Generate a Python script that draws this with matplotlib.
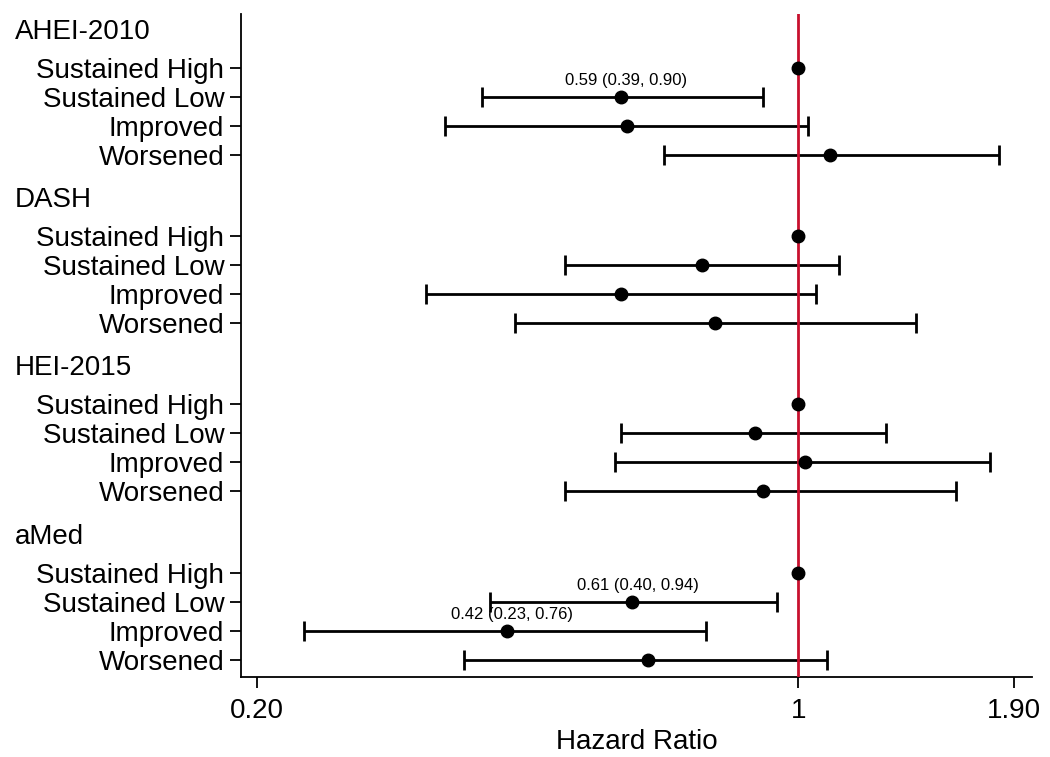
import numpy as np
import matplotlib
matplotlib.use("Agg")
from matplotlib import pyplot as plt
from matplotlib import transforms

plt.rcParams['font.family'] = ['Liberation Sans', 'DejaVu Sans']

groups = ["AHEI-2010", "DASH", "HEI-2015", "aMed"]
rows = ["Sustained High", "Sustained Low", "Improved", "Worsened"]

# hazard ratio and 95% CI for each group, row order as above
hr = [[1.0, 0.59, 0.60, 1.10],
      [1.0, 0.75, 0.59, 0.78],
      [1.0, 0.88, 1.02, 0.90],
      [1.0, 0.61, 0.42, 0.64]]
lo = [[np.nan, 0.39, 0.35, 0.67],
      [np.nan, 0.50, 0.33, 0.43],
      [np.nan, 0.59, 0.58, 0.50],
      [np.nan, 0.40, 0.23, 0.37]]
hi = [[np.nan, 0.90, 1.03, 1.82],
      [np.nan, 1.13, 1.055, 1.42],
      [np.nan, 1.30, 1.77, 1.60],
      [np.nan, 0.94, 0.76, 1.09]]
# labels shown only for significant estimates
notes = {(0, 1): "0.59 (0.39, 0.90)",
         (3, 1): "0.61 (0.40, 0.94)",
         (3, 2): "0.42 (0.23, 0.76)"}

xticks = [0.20, 1, 1.90]
xticklabels = ["0.20", "1", "1.90"]

group_step = 5.8
head_gap = 1.24
fs = 20

fig = plt.figure(figsize=(10.5, 7.57), dpi=100)
ax = fig.add_axes([241/1050, 1-677/757, (1032-241)/1050, (677-14)/757])

ypos = []
ylabs = []
for g, name in enumerate(groups):
    base = g*group_step
    for r, lab in enumerate(rows):
        y = base + head_gap + r
        ypos.append(y)
        ylabs.append(lab)
        if not np.isnan(lo[g][r]):
            ax.errorbar(hr[g][r], y, xerr=[[hr[g][r]-lo[g][r]], [hi[g][r]-hr[g][r]]],
                        fmt="none", ecolor="black", elinewidth=2, capsize=7, capthick=2, zorder=2)
        ax.plot(hr[g][r], y, "o", color="black", markersize=9, zorder=4)
        if (g, r) in notes:
            ax.annotate(notes[(g, r)], (hr[g][r], y), xytext=(4, 6.5), textcoords="offset points",
                        ha="center", va="bottom", fontsize=12)

ax.axvline(1, color="#c8102e", linewidth=2, zorder=3)

trans = transforms.blended_transform_factory(fig.transFigure, ax.transData)
for g, name in enumerate(groups):
    ax.text(15/1050, g*group_step, name, transform=trans, ha="left", va="center", fontsize=fs)

ax.set_xscale("log")
ax.set_xlim(0.1905, 2.005)
ax.set_ylim(22.24, -0.62)
ax.set_xticks(xticks)
ax.set_xticklabels(xticklabels)
ax.xaxis.set_minor_locator(matplotlib.ticker.NullLocator())
ax.set_yticks(ypos)
ax.set_yticklabels(ylabs)
ax.tick_params(axis="both", labelsize=fs, length=8, width=1.3, direction="out")
ax.tick_params(axis="y", pad=4)
ax.tick_params(axis="x", pad=7)
ax.set_xlabel("Hazard Ratio", fontsize=fs, labelpad=4)

ax.spines["top"].set_visible(False)
ax.spines["right"].set_visible(False)
ax.spines["left"].set_linewidth(1.3)
ax.spines["bottom"].set_linewidth(1.3)

plt.savefig("out.png", dpi=100)
plt.close()
